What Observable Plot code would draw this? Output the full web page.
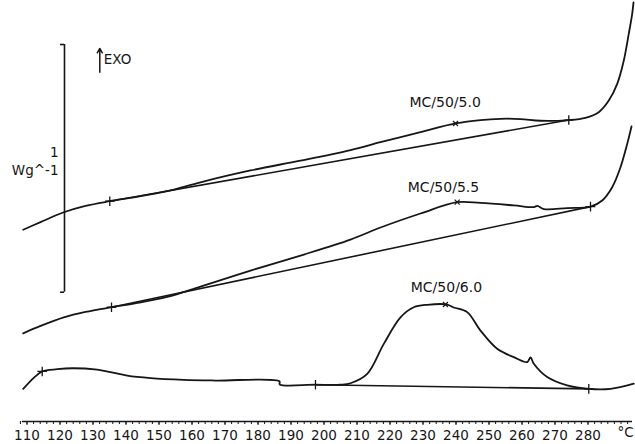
<!DOCTYPE html>
<html>
<head>
<meta charset="utf-8">
<script src="https://cdn.jsdelivr.net/npm/d3@7"></script>
<script src="https://cdn.jsdelivr.net/npm/@observablehq/plot@0.6"></script>
<style>
  html, body { margin: 0; padding: 0; background: #fff; }
  #chart { width: 635px; height: 444px; }
</style>
</head>
<body>
<div id="chart"></div>
<script>
// Temperatures (°C) and heat flow (W/g, arbitrary offset)
const tempA = [108.85, 114.09, 121.15, 127.73, 135.09, 142.36, 152.48, 162.58, 177.73, 192.88, 208.03, 217.12, 229.24, 239.85, 247.42, 253.48, 259.55, 265.61, 274.18, 279.24, 283.27, 286.30, 288.85, 290.85, 292.36, 293.39, 293.79];
const flowA = [0.873, 0.904, 0.944, 0.970, 0.989, 1.005, 1.030, 1.066, 1.114, 1.154, 1.197, 1.229, 1.270, 1.305, 1.319, 1.324, 1.323, 1.316, 1.319, 1.328, 1.351, 1.398, 1.466, 1.561, 1.670, 1.751, 1.797];

const tempB = [108.85, 114.09, 121.15, 127.73, 135.61, 142.36, 152.48, 162.58, 177.73, 192.88, 208.03, 217.12, 229.24, 240.36, 247.42, 257.52, 263.58, 264.70, 266.61, 273.70, 280.76, 284.30, 287.33, 289.85, 291.88, 293.18];
const flowB = [0.452, 0.482, 0.517, 0.539, 0.558, 0.573, 0.600, 0.642, 0.707, 0.768, 0.833, 0.882, 0.939, 0.985, 0.982, 0.972, 0.965, 0.970, 0.957, 0.961, 0.967, 0.992, 1.046, 1.127, 1.222, 1.293];

const tempC = [108.85, 112.06, 114.61, 119.15, 123.70, 131.27, 135.30, 140.36, 147.42, 157.52, 167.12, 186.50, 186.60, 197.42, 205.00, 208.03, 213.09, 218.12, 223.18, 227.21, 231.27, 237.33, 239.33, 243.39, 247.42, 252.48, 257.52, 261.58, 262.58, 263.58, 267.64, 273.70, 280.24, 286.82, 293.88];
const flowC = [0.226, 0.271, 0.297, 0.306, 0.310, 0.304, 0.294, 0.280, 0.270, 0.263, 0.260, 0.257, 0.244, 0.243, 0.243, 0.249, 0.287, 0.409, 0.517, 0.558, 0.568, 0.569, 0.557, 0.538, 0.463, 0.389, 0.355, 0.335, 0.354, 0.328, 0.274, 0.240, 0.226, 0.226, 0.247];

// Integration baselines (start/end temperature and value)
const baseTemps = [[135.09, 274.18], [135.61, 280.76], [197.42, 280.24]];
const baseFlows = [[0.989, 1.319], [0.558, 0.967], [0.243, 0.226]];

// Limit markers (+) and peak markers (x)
const limitTemps = [135.09, 274.18, 135.61, 280.76, 114.61, 197.42, 280.24];
const limitFlows = [0.989, 1.319, 0.558, 0.967, 0.297, 0.243, 0.226];
const peakTemps = [239.85, 240.36, 236.8];
const peakFlows = [1.305, 0.985, 0.569];

// Curve labels
const sampleNames = ["MC/50/5.0", "MC/50/5.5", "MC/50/6.0"];
const labelTemps = [236.7, 236.2, 237.1];
const labelFlows = [1.392, 1.043, 0.639];

// Axis ticks
const tickLabels = d3.range(110, 281, 10);
const minorTicks = d3.range(108, 293, 2);

// Scale bar (1 W/g) and exotherm arrow
const scaleBarTemp = 121.36;
const scaleBarFlows = [0.619, 1.626];
const exoTemp = 132.06;
const exoFlows = [1.513, 1.610];

const toRows = (t, f) => t.map((x, i) => ({T: x, q: f[i]}));
const curves = [toRows(tempA, flowA), toRows(tempB, flowB), toRows(tempC, flowC)];
const baselines = baseTemps.map((t, i) => ({T1: t[0], T2: t[1], q1: baseFlows[i][0], q2: baseFlows[i][1]}));
const limits = toRows(limitTemps, limitFlows);
const peaks = toRows(peakTemps, peakFlows);
const labels = sampleNames.map((n, i) => ({name: n, T: labelTemps[i], q: labelFlows[i]}));

const ink = "#161616";
const axisQ = 23 / 246;

const chart = Plot.plot({
  width: 635,
  height: 444,
  marginTop: 0,
  marginRight: 0,
  marginLeft: 0,
  marginBottom: 23,
  style: {fontFamily: "DejaVu Sans, Verdana, sans-serif", fontSize: "13.5px", background: "#fff", color: ink},
  x: {domain: [110 - 26.5 / 3.3, 110 + (635 - 26.5) / 3.3], label: null},
  y: {domain: [axisQ, 444 / 246], axis: null},
  marks: [
    // x axis line and ticks
    Plot.ruleY([axisQ], {x1: 108.6, x2: 293.5, stroke: ink, strokeWidth: 1.3}),
    Plot.axisX({ticks: minorTicks, tickSize: 3, tickFormat: () => "", stroke: ink}),
    Plot.axisX({ticks: tickLabels, tickSize: 4, tickPadding: 5, fontSize: 13.5, fill: ink, stroke: ink}),
    Plot.text(["°C"], {x: () => 291.4, frameAnchor: "bottom", dy: 15, fontSize: 13.5, fill: ink, text: d => d}),
    // scale bar
    Plot.ruleX([scaleBarTemp], {y1: scaleBarFlows[0], y2: scaleBarFlows[1], stroke: ink, strokeWidth: 1.6}),
    Plot.ruleY(scaleBarFlows, {x1: scaleBarTemp - 1.2, x2: scaleBarTemp, y: d => d, stroke: ink, strokeWidth: 1.6}),
    Plot.text(["1"], {x: () => scaleBarTemp, y: () => 1.187, dx: -6, textAnchor: "end", fontSize: 13.5, fill: ink, text: d => d}),
    Plot.text(["Wg^-1"], {x: () => scaleBarTemp, y: () => 1.114, dx: -6, textAnchor: "end", fontSize: 13.5, fill: ink, text: d => d}),
    // EXO arrow
    Plot.arrow([0], {x1: exoTemp, x2: exoTemp, y1: exoFlows[0], y2: exoFlows[1], stroke: ink, strokeWidth: 1.5, headLength: 5}),
    Plot.text(["EXO"], {x: () => exoTemp, y: () => 1.565, dx: 4, textAnchor: "start", fontSize: 13.5, fill: ink, text: d => d}),
    // baselines
    Plot.link(baselines, {x1: "T1", x2: "T2", y1: "q1", y2: "q2", stroke: ink, strokeWidth: 1.6}),
    // thermograms
    ...curves.map(c => Plot.line(c, {x: "T", y: "q", curve: "catmull-rom", stroke: ink, strokeWidth: 1.8})),
    // markers
    Plot.dot(limits, {x: "T", y: "q", symbol: "plus", r: 3.2, stroke: ink, strokeWidth: 1.3}),
    Plot.dot(peaks, {x: "T", y: "q", symbol: "times", r: 2.4, stroke: ink, strokeWidth: 1.2}),
    // labels
    Plot.text(labels, {x: "T", y: "q", text: "name", fontSize: 14, fill: ink})
  ]
});
document.getElementById("chart").appendChild(chart);
</script>
</body>
</html>
